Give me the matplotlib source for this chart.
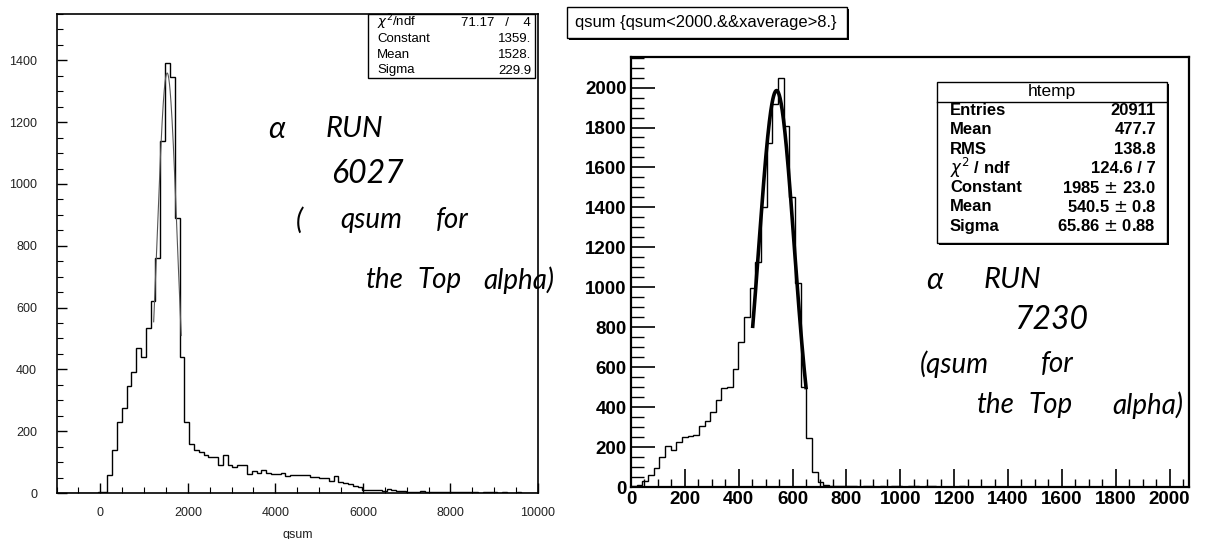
import numpy as np
import matplotlib
matplotlib.use("Agg")
import matplotlib.pyplot as plt
from matplotlib.patches import Rectangle
from matplotlib.ticker import MultipleLocator

# ---------------- data ----------------
# Left histogram (run 6027): bins of width 110 starting at -1050
left_bin_start = -1050
left_bin_width = 110
left_counts = [0, 0, 0, 0, 0, 0, 0, 0, 0, 2,
               3, 58, 140, 230, 275, 345, 390, 470, 440, 535,
               620, 760, 1140, 1390, 1345, 890, 440, 230, 160, 140,
               133, 122, 118, 116, 92, 122, 91, 85, 89, 89,
               61, 70, 66, 73, 66, 61, 61, 66, 55, 58,
               58, 58, 59, 53, 53, 48, 48, 39, 55, 35,
               33, 30, 22, 20, 11, 9, 9, 9, 8, 13,
               9, 6, 5, 4, 4, 3, 5, 3, 4, 2,
               3, 3, 2, 4, 2, 2, 3, 2, 1, 2,
               3, 2, 1, 2, 1, 1, 2, 1, 1, 1]
left_fit = {"const": 1359.0, "mean": 1528.0, "sigma": 229.9, "lo": 1220, "hi": 1850}
left_stats = [("$\\chi^2$/ndf", "71.17   /    4"), ("Constant", "1359."),
              ("Mean", "1528."), ("Sigma", "229.9")]
left_xticks = [0, 2000, 4000, 6000, 8000, 10000]
left_yticks = [0, 200, 400, 600, 800, 1000, 1200, 1400]

# Right histogram (run 7230): bins of width 21 starting at 0
right_bin_start = 0
right_bin_width = 21
right_counts = [3, 8, 30, 62, 95, 148, 207, 183, 225, 248,
                257, 262, 303, 332, 378, 437, 498, 503, 592, 728,
                853, 995, 1128, 1400, 1720, 1920, 2050, 1810, 1450, 1020,
                500, 245, 73, 27, 9, 3, 4, 5, 3, 4,
                2, 3, 4, 2, 3, 2, 3, 5, 2, 6,
                3, 2, 4, 6, 2, 1, 2, 1, 3, 1,
                2, 1, 1, 2, 1, 1, 0, 1, 2, 1,
                1, 0, 1, 1, 0, 1, 1, 0, 1, 0,
                1, 1, 0, 0, 1, 0, 1, 0, 0, 1,
                0, 0, 1, 0, 0, 0, 1, 0, 0]
right_fit = {"const": 1985.0, "mean": 540.5, "sigma": 65.86, "lo": 452, "hi": 650}
right_title = "qsum {qsum<2000.&&xaverage>8.}"
right_stats_name = "htemp"
right_stats = [("Entries", "20911"), ("Mean", "477.7"), ("RMS", "138.8"),
               ("$\\chi^2$ / ndf", "124.6 / 7"), ("Constant", "1985 $\\pm$ 23.0"),
               ("Mean", "540.5 $\\pm$ 0.8"), ("Sigma", "65.86 $\\pm$ 0.88")]
right_xticks = [0, 200, 400, 600, 800, 1000, 1200, 1400, 1600, 1800, 2000]
right_yticks = [0, 200, 400, 600, 800, 1000, 1200, 1400, 1600, 1800, 2000]

# handwritten notes: lines of words
left_notes = [["\u03b1", "RUN"], ["6027"], ["(", "qsum", "for"], ["the", "Top", "alpha)"]]
right_notes = [["\u03b1", "RUN"], ["7230"], ["(qsum", "for"], ["the", "Top", "alpha)"]]

# ---------------- figure ----------------
FW, FH = 1210, 539
fig = plt.figure(figsize=(FW / 100, FH / 100), dpi=100)
fig.patch.set_facecolor("white")


def fx(x):
    return x / FW


def fy(y):
    return 1 - y / FH


def box_px(x0, y0, x1, y1):
    return [fx(x0), fy(y1), fx(x1) - fx(x0), fy(y0) - fy(y1)]


def gauss(x, c, m, s):
    return c * np.exp(-0.5 * ((x - m) / s) ** 2)


hw = dict(family=["Lato", "DejaVu Sans"], fontweight="normal", style="italic",
          color="black", zorder=7)


def word(x0, x1, yc, s, size=20):
    return fig.text(fx(0.5 * (x0 + x1)), fy(yc), s, ha="center", va="center",
                    fontsize=size, **hw)


# ---------- left panel ----------
ax1 = fig.add_axes(box_px(56.5, 14, 538, 493))
le = left_bin_start + left_bin_width * np.arange(len(left_counts) + 1)
ax1.stairs(left_counts, le, color="black", lw=1.0, baseline=0)
xf = np.linspace(left_fit["lo"], left_fit["hi"], 200)
ax1.plot(xf, gauss(xf, left_fit["const"], left_fit["mean"], left_fit["sigma"]),
         color="#555555", lw=0.8)
ax1.set_xlim(-1000, 10000)
ax1.set_ylim(0, 1550)
ax1.set_xticks(left_xticks)
ax1.set_yticks(left_yticks)
ax1.xaxis.set_minor_locator(MultipleLocator(500))
ax1.yaxis.set_minor_locator(MultipleLocator(50))
ax1.tick_params(which="both", direction="in", top=False, right=False)
ax1.tick_params(which="major", length=7, width=1.0)
ax1.tick_params(which="minor", length=4, width=0.8)
ax1.tick_params(axis="y", pad=14, labelsize=9)
ax1.tick_params(axis="x", pad=10, labelsize=9)
for lab in ax1.get_xticklabels() + ax1.get_yticklabels():
    lab.set_fontfamily("Liberation Sans")
    lab.set_color("#222222")
for sp in ax1.spines.values():
    sp.set_linewidth(1.2)
fig.text(fx(298), fy(535), "qsum", ha="center", va="center", fontsize=9,
         family="Liberation Sans", color="#222222")

# left stats box
fig.patches.append(Rectangle((fx(368), fy(78)), fx(535) - fx(368), fy(14) - fy(78),
                             transform=fig.transFigure, fill=True, facecolor="white",
                             edgecolor="black", lw=1.0, zorder=5))
for i, (name, val) in enumerate(left_stats):
    yy = 22.5 + i * 16
    fig.text(fx(377), fy(yy), name, ha="left", va="center", fontsize=9.5,
             family="Liberation Sans", zorder=6)
    fig.text(fx(531), fy(yy), val, ha="right", va="center", fontsize=9.5,
             family="Liberation Sans", zorder=6)

# handwritten notes (left)
word(264, 290, 129, left_notes[0][0], 22)
word(329, 379, 129, left_notes[0][1], 21)
word(329, 406, 174, left_notes[1][0], 23)
word(294, 304, 220, left_notes[2][0], 20)
word(333, 409, 220, left_notes[2][1], 20)
word(429, 475, 220, left_notes[2][2], 20)
word(364, 406, 280, left_notes[3][0], 20)
word(421, 459, 280, left_notes[3][1], 20)
word(475, 563, 280, left_notes[3][2], 20)

# ---------- right panel ----------
ax2 = fig.add_axes(box_px(631, 57, 1189, 487))
re_ = right_bin_start + right_bin_width * np.arange(len(right_counts) + 1)
ax2.stairs(right_counts, re_, color="black", lw=1.0, baseline=0)
xf2 = np.linspace(right_fit["lo"], right_fit["hi"], 200)
ax2.plot(xf2, gauss(xf2, right_fit["const"], right_fit["mean"], right_fit["sigma"]),
         color="black", lw=2.6)
ax2.set_xlim(0, 2072)
ax2.set_ylim(0, 2153)
ax2.set_xticks(right_xticks)
ax2.set_yticks(right_yticks)
ax2.xaxis.set_minor_locator(MultipleLocator(50))
ax2.yaxis.set_minor_locator(MultipleLocator(50))
ax2.tick_params(which="both", direction="in", top=False, right=False)
ax2.tick_params(axis="y", which="major", length=17, width=1.2)
ax2.tick_params(axis="y", which="minor", length=9, width=1.0)
ax2.tick_params(axis="x", which="major", length=13, width=1.2)
ax2.tick_params(axis="x", which="minor", length=6, width=1.0)
ax2.tick_params(axis="both", labelsize=13.5, pad=3)
for lab in ax2.get_xticklabels() + ax2.get_yticklabels():
    lab.set_fontfamily("Liberation Sans")
    lab.set_fontweight("bold")
for sp in ax2.spines.values():
    sp.set_linewidth(1.6)

# title box
fig.patches.append(Rectangle((fx(569), fy(40)), fx(849) - fx(569), fy(9) - fy(40),
                             transform=fig.transFigure, facecolor="black",
                             edgecolor="none", zorder=4))
fig.patches.append(Rectangle((fx(567), fy(38)), fx(847) - fx(567), fy(7) - fy(38),
                             transform=fig.transFigure, facecolor="white",
                             edgecolor="black", lw=1.0, zorder=5))
fig.text(fx(575), fy(22.5), right_title, ha="left", va="center", fontsize=11.9,
         family="Liberation Sans", zorder=6)

# right stats box
fig.patches.append(Rectangle((fx(939), fy(245)), fx(1169) - fx(939), fy(84) - fy(245),
                             transform=fig.transFigure, facecolor="black",
                             edgecolor="none", zorder=4))
fig.patches.append(Rectangle((fx(937), fy(243)), fx(1167) - fx(937), fy(82) - fy(243),
                             transform=fig.transFigure, facecolor="white",
                             edgecolor="black", lw=1.0, zorder=5))
fig.lines.append(plt.Line2D([fx(937), fx(1167)], [fy(101.5), fy(101.5)],
                            transform=fig.transFigure, color="black", lw=1.0, zorder=6))
fig.text(fx(1052), fy(91.5), right_stats_name, ha="center", va="center", fontsize=12.5,
         family="Liberation Sans", zorder=6)
for i, (name, val) in enumerate(right_stats):
    yy = 110.5 + i * 19.3
    fig.text(fx(950), fy(yy), name, ha="left", va="center", fontsize=12,
             family="Liberation Sans", fontweight="bold", zorder=6)
    fig.text(fx(1156), fy(yy), val, ha="right", va="center", fontsize=12,
             family="Liberation Sans", fontweight="bold", zorder=6)

# handwritten notes (right)
word(921, 948, 280, right_notes[0][0], 22)
word(983, 1041, 280, right_notes[0][1], 21)
word(1012, 1091, 320, right_notes[1][0], 23)
word(904, 1004, 364, right_notes[2][0], 20)
word(1033, 1082, 364, right_notes[2][1], 20)
word(975, 1016, 405, right_notes[3][0], 20)
word(1028, 1074, 405, right_notes[3][1], 20)
word(1095, 1200, 405, right_notes[3][2], 20)

fig.savefig("out.png", dpi=100, facecolor="white")
